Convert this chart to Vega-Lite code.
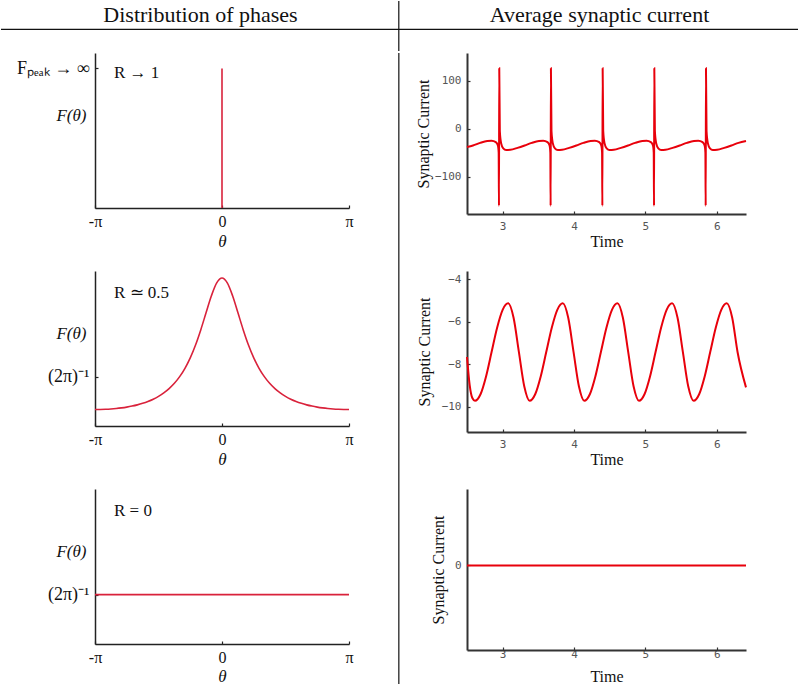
{
 "$schema": "https://vega.github.io/schema/vega-lite/v6.json",
 "background": "white",
 "padding": 0,
 "spacing": 0,
 "config": {
  "view": {"stroke": null},
  "font": "Liberation Serif",
  "axis": {"grid": false, "labelFlush": false, "labelOverlap": false, "titleFontWeight": "normal", "titleFont": "Liberation Serif", "labelFont": "Liberation Serif", "titleColor": "#111", "labelColor": "#111", "domainColor": "#222", "tickColor": "#222", "domainWidth": 1.5, "tickWidth": 1.2}
 },
 "vconcat": [
  {
   "width": 704, "height": 50,
   "layer": [
    {"data": {"values": [{"col": 0.5, "heading": "Distribution of phases"}, {"col": 1.5, "heading": "Average synaptic current"}]},
     "mark": {"type": "text", "font": "Liberation Serif", "fontSize": 22, "baseline": "alphabetic", "align": "center", "color": "#111"},
     "encoding": {
      "x": {"field": "col", "type": "quantitative", "scale": {"domain": [0.2356, 2], "nice": false, "zero": false}, "axis": null},
      "y": {"datum": 0.59, "type": "quantitative", "scale": {"domain": [0, 1], "nice": false}, "axis": null},
      "text": {"field": "heading"}}},
    {"data": {"values": [{}]},
     "mark": {"type": "rule", "color": "#111", "strokeWidth": 1.2},
     "encoding": {"x": {"datum": 0, "type": "quantitative"}, "x2": {"datum": 2}, "y": {"datum": 0.434, "type": "quantitative"}}},
    {"data": {"values": [{}]},
     "mark": {"type": "rule", "color": "#111", "strokeWidth": 1.2},
     "encoding": {"x": {"datum": 0.997, "type": "quantitative"}}}
   ]
  },
  {
   "spacing": 0,
   "hconcat": [
    {
     "spacing": 22,
     "vconcat": [
      {
       "width": 254, "height": 155,
       "layer": [
        {"data": {"values": [{"theta": 0, "F": 0}, {"theta": 0, "F": 0.9}]},
         "mark": {"type": "line", "color": "#d9223b", "strokeWidth": 1.6, "strokeCap": "butt"},
         "encoding": {
          "x": {"field": "theta", "type": "quantitative", "scale": {"domain": [-3.14159, 3.14159], "nice": false, "zero": false},
                "axis": {"values": [-3.14159, 0, 3.14159], "labelExpr": "datum.value < -1 ? '-π' : datum.value > 1 ? 'π' : '0'", "title": "θ", "titleFontStyle": "italic", "titleFontSize": 17, "titleY": 33, "titleBaseline": "middle", "labelFontSize": 16, "labelBaseline": "middle", "labelPadding": 16.7, "tickSize": -3}},
          "y": {"field": "F", "type": "quantitative", "scale": {"domain": [0, 1], "nice": false},
                "axis": {"values": [0.9], "labelExpr": "'Fₚₑₐₖ → ∞'", "title": "F(θ)", "titleAngle": 0, "titleX": -24, "titleY": 62, "titleAlign": "center", "titleBaseline": "middle", "titleFontStyle": "italic", "titleFontSize": 17, "labelFontSize": 18, "labelPadding": 9, "tickSize": -3}}}},
        {"data": {"values": [{}]},
         "mark": {"type": "text", "align": "left", "baseline": "middle", "fontSize": 17, "font": "Liberation Serif", "color": "#111"},
         "encoding": {"x": {"datum": -2.672, "type": "quantitative"}, "y": {"datum": 0.871, "type": "quantitative"}, "text": {"value": "R → 1"}}}
       ]
      },
      {
       "width": 254, "height": 155,
       "layer": [
        {"data": {"values": [
          {"theta": -3.1416, "F": 0.05305}, {"theta": -3.0107, "F": 0.05325}, {"theta": -2.8798, "F": 0.05387}, {"theta": -2.7489, "F": 0.05491},
          {"theta": -2.618, "F": 0.05641}, {"theta": -2.4871, "F": 0.05842}, {"theta": -2.3562, "F": 0.06099}, {"theta": -2.2253, "F": 0.06422},
          {"theta": -2.0944, "F": 0.06821}, {"theta": -1.9635, "F": 0.07311}, {"theta": -1.8326, "F": 0.07911}, {"theta": -1.7017, "F": 0.08646},
          {"theta": -1.5708, "F": 0.09549}, {"theta": -1.4399, "F": 0.10663}, {"theta": -1.309, "F": 0.12043}, {"theta": -1.1781, "F": 0.13763},
          {"theta": -1.0472, "F": 0.15915}, {"theta": -0.9163, "F": 0.18615}, {"theta": -0.7854, "F": 0.21987}, {"theta": -0.6545, "F": 0.2614},
          {"theta": -0.5236, "F": 0.31087}, {"theta": -0.3927, "F": 0.36602}, {"theta": -0.2618, "F": 0.42019}, {"theta": -0.1309, "F": 0.46166},
          {"theta": 0, "F": 0.47746},
          {"theta": 0.1309, "F": 0.46166}, {"theta": 0.2618, "F": 0.42019}, {"theta": 0.3927, "F": 0.36602}, {"theta": 0.5236, "F": 0.31087},
          {"theta": 0.6545, "F": 0.2614}, {"theta": 0.7854, "F": 0.21987}, {"theta": 0.9163, "F": 0.18615}, {"theta": 1.0472, "F": 0.15915},
          {"theta": 1.1781, "F": 0.13763}, {"theta": 1.309, "F": 0.12043}, {"theta": 1.4399, "F": 0.10663}, {"theta": 1.5708, "F": 0.09549},
          {"theta": 1.7017, "F": 0.08646}, {"theta": 1.8326, "F": 0.07911}, {"theta": 1.9635, "F": 0.07311}, {"theta": 2.0944, "F": 0.06821},
          {"theta": 2.2253, "F": 0.06422}, {"theta": 2.3562, "F": 0.06099}, {"theta": 2.4871, "F": 0.05842}, {"theta": 2.618, "F": 0.05641},
          {"theta": 2.7489, "F": 0.05491}, {"theta": 2.8798, "F": 0.05387}, {"theta": 3.0107, "F": 0.05325}, {"theta": 3.1416, "F": 0.05305}
         ]},
         "mark": {"type": "line", "color": "#d9223b", "strokeWidth": 1.6, "interpolate": "monotone"},
         "encoding": {
          "x": {"field": "theta", "type": "quantitative", "scale": {"domain": [-3.14159, 3.14159], "nice": false, "zero": false},
                "axis": {"values": [-3.14159, 0, 3.14159], "labelExpr": "datum.value < -1 ? '-π' : datum.value > 1 ? 'π' : '0'", "title": "θ", "titleFontStyle": "italic", "titleFontSize": 17, "titleY": 33, "titleBaseline": "middle", "labelFontSize": 16, "labelBaseline": "middle", "labelPadding": 16.7, "tickSize": -3}},
          "y": {"field": "F", "type": "quantitative", "scale": {"domain": [0, 0.5], "nice": false},
                "axis": {"values": [0.159155], "labelExpr": "'(2π)⁻¹'", "title": "F(θ)", "titleAngle": 0, "titleX": -24, "titleY": 62, "titleAlign": "center", "titleBaseline": "middle", "titleFontStyle": "italic", "titleFontSize": 17, "labelFontSize": 18, "labelPadding": 9, "tickSize": -3}}}},
        {"data": {"values": [{}]},
         "mark": {"type": "text", "align": "left", "baseline": "middle", "fontSize": 17, "font": "Liberation Serif", "color": "#111"},
         "encoding": {"x": {"datum": -2.672, "type": "quantitative"}, "y": {"datum": 0.429, "type": "quantitative"}, "text": {"value": "R ≃ 0.5"}}}
       ]
      },
      {
       "width": 254, "height": 155,
       "layer": [
        {"data": {"values": [{"theta": -3.1416, "F": 0.159155}, {"theta": 3.1416, "F": 0.159155}]},
         "mark": {"type": "line", "color": "#d9223b", "strokeWidth": 1.6},
         "encoding": {
          "x": {"field": "theta", "type": "quantitative", "scale": {"domain": [-3.14159, 3.14159], "nice": false, "zero": false},
                "axis": {"values": [-3.14159, 0, 3.14159], "labelExpr": "datum.value < -1 ? '-π' : datum.value > 1 ? 'π' : '0'", "title": "θ", "titleFontStyle": "italic", "titleFontSize": 17, "titleY": 32, "titleBaseline": "middle", "labelFontSize": 16, "labelBaseline": "middle", "labelPadding": 16.7, "tickSize": -3}},
          "y": {"field": "F", "type": "quantitative", "scale": {"domain": [0, 0.5], "nice": false},
                "axis": {"values": [0.159155], "labelExpr": "'(2π)⁻¹'", "title": "F(θ)", "titleAngle": 0, "titleX": -24, "titleY": 62, "titleAlign": "center", "titleBaseline": "middle", "titleFontStyle": "italic", "titleFontSize": 17, "labelFontSize": 18, "labelPadding": 9, "tickSize": -3}}}},
        {"data": {"values": [{}]},
         "mark": {"type": "text", "align": "left", "baseline": "middle", "fontSize": 17, "font": "Liberation Serif", "color": "#111"},
         "encoding": {"x": {"datum": -2.672, "type": "quantitative"}, "y": {"datum": 0.43, "type": "quantitative"}, "text": {"value": "R = 0"}}}
       ]
      }
     ]
    },
    {
     "width": 61, "height": 634,
     "data": {"values": [{}]},
     "mark": {"type": "rule", "color": "#111", "strokeWidth": 1.2},
     "encoding": {"x": {"datum": 0.735, "type": "quantitative", "scale": {"domain": [0, 1], "nice": false}, "axis": null}}
    },
    {
     "spacing": 22,
     "vconcat": [
      {
       "width": 279, "height": 161,
       "data": {"values": [
        {"t": 2.5, "I": -38}, {"t": 2.584, "I": -35}, {"t": 2.684, "I": -29.5}, {"t": 2.784, "I": -25.5}, {"t": 2.844, "I": -25}, {"t": 2.904, "I": -28}, {"t": 2.933, "I": -35}, {"t": 2.944, "I": -50},
        {"t": 2.948, "I": -161}, {"t": 2.952, "I": 126}, {"t": 2.96, "I": -5}, {"t": 2.978, "I": -30}, {"t": 3.008, "I": -41}, {"t": 3.048, "I": -44.5}, {"t": 3.108, "I": -44}, {"t": 3.208, "I": -40}, {"t": 3.308, "I": -35}, {"t": 3.408, "I": -29.5}, {"t": 3.508, "I": -25.5}, {"t": 3.568, "I": -25}, {"t": 3.628, "I": -28}, {"t": 3.657, "I": -35}, {"t": 3.668, "I": -50},
        {"t": 3.672, "I": -161}, {"t": 3.676, "I": 126}, {"t": 3.684, "I": -5}, {"t": 3.702, "I": -30}, {"t": 3.732, "I": -41}, {"t": 3.772, "I": -44.5}, {"t": 3.832, "I": -44}, {"t": 3.932, "I": -40}, {"t": 4.032, "I": -35}, {"t": 4.132, "I": -29.5}, {"t": 4.232, "I": -25.5}, {"t": 4.292, "I": -25}, {"t": 4.353, "I": -28}, {"t": 4.382, "I": -35}, {"t": 4.393, "I": -50},
        {"t": 4.397, "I": -161}, {"t": 4.401, "I": 126}, {"t": 4.409, "I": -5}, {"t": 4.427, "I": -30}, {"t": 4.457, "I": -41}, {"t": 4.497, "I": -44.5}, {"t": 4.557, "I": -44}, {"t": 4.657, "I": -40}, {"t": 4.757, "I": -35}, {"t": 4.857, "I": -29.5}, {"t": 4.957, "I": -25.5}, {"t": 5.017, "I": -25}, {"t": 5.077, "I": -28}, {"t": 5.106, "I": -35}, {"t": 5.117, "I": -50},
        {"t": 5.121, "I": -161}, {"t": 5.125, "I": 126}, {"t": 5.133, "I": -5}, {"t": 5.151, "I": -30}, {"t": 5.181, "I": -41}, {"t": 5.221, "I": -44.5}, {"t": 5.281, "I": -44}, {"t": 5.381, "I": -40}, {"t": 5.481, "I": -35}, {"t": 5.581, "I": -29.5}, {"t": 5.681, "I": -25.5}, {"t": 5.741, "I": -25}, {"t": 5.801, "I": -28}, {"t": 5.83, "I": -35}, {"t": 5.841, "I": -50},
        {"t": 5.845, "I": -161}, {"t": 5.849, "I": 126}, {"t": 5.857, "I": -5}, {"t": 5.875, "I": -30}, {"t": 5.905, "I": -41}, {"t": 5.945, "I": -44.5}, {"t": 6.005, "I": -44}, {"t": 6.105, "I": -40}, {"t": 6.205, "I": -35}, {"t": 6.305, "I": -29.5}, {"t": 6.41, "I": -25.5}
       ]},
       "mark": {"type": "line", "color": "#e8000b", "strokeWidth": 2, "interpolate": "monotone"},
       "encoding": {
        "x": {"field": "t", "type": "quantitative", "scale": {"domain": [2.5, 6.41], "nice": false, "zero": false},
              "axis": {"values": [3, 4, 5, 6], "title": "Time", "titleFontSize": 16, "titleY": 27, "titleBaseline": "middle", "labelFont": "DejaVu Sans Mono", "labelFontSize": 11, "labelColor": "#555", "labelBaseline": "middle", "labelPadding": 15, "tickSize": -3, "domainWidth": 2, "domainColor": "#333", "tickColor": "#333"}},
        "y": {"field": "I", "type": "quantitative", "scale": {"domain": [-178, 158], "nice": false, "zero": false},
              "axis": {"values": [-100, 0, 100], "title": "Synaptic Current", "titleFontSize": 16, "titleX": -44, "titleY": 80.5, "titleBaseline": "middle", "labelFont": "DejaVu Sans Mono", "labelFontSize": 11, "labelColor": "#555", "labelPadding": 9, "tickSize": -3, "domainWidth": 2, "domainColor": "#333", "tickColor": "#333"}}}
      },
      {
       "width": 279, "height": 161,
       "data": {"values": [
        {"t": 2.5, "I": -7.67}, {"t": 2.538, "I": -9.0}, {"t": 2.575, "I": -9.6},
        {"t": 2.612, "I": -9.73}, {"t": 2.6895, "I": -9.423}, {"t": 2.767, "I": -8.583}, {"t": 2.8445, "I": -7.435}, {"t": 2.922, "I": -6.288}, {"t": 2.9995, "I": -5.447}, {"t": 3.077, "I": -5.14}, {"t": 3.152, "I": -5.812}, {"t": 3.2275, "I": -7.435}, {"t": 3.303, "I": -9.058},
        {"t": 3.378, "I": -9.73}, {"t": 3.4555, "I": -9.423}, {"t": 3.533, "I": -8.583}, {"t": 3.6105, "I": -7.435}, {"t": 3.688, "I": -6.288}, {"t": 3.7655, "I": -5.447}, {"t": 3.843, "I": -5.14}, {"t": 3.918, "I": -5.812}, {"t": 3.9935, "I": -7.435}, {"t": 4.069, "I": -9.058},
        {"t": 4.144, "I": -9.73}, {"t": 4.2215, "I": -9.423}, {"t": 4.299, "I": -8.583}, {"t": 4.3765, "I": -7.435}, {"t": 4.454, "I": -6.288}, {"t": 4.5315, "I": -5.447}, {"t": 4.609, "I": -5.14}, {"t": 4.684, "I": -5.812}, {"t": 4.7595, "I": -7.435}, {"t": 4.835, "I": -9.058},
        {"t": 4.91, "I": -9.73}, {"t": 4.9875, "I": -9.423}, {"t": 5.065, "I": -8.583}, {"t": 5.1425, "I": -7.435}, {"t": 5.22, "I": -6.288}, {"t": 5.2975, "I": -5.447}, {"t": 5.375, "I": -5.14}, {"t": 5.45, "I": -5.812}, {"t": 5.5255, "I": -7.435}, {"t": 5.601, "I": -9.058},
        {"t": 5.676, "I": -9.73}, {"t": 5.7535, "I": -9.423}, {"t": 5.831, "I": -8.583}, {"t": 5.9085, "I": -7.435}, {"t": 5.986, "I": -6.288}, {"t": 6.0635, "I": -5.447}, {"t": 6.141, "I": -5.14}, {"t": 6.216, "I": -5.812}, {"t": 6.2915, "I": -7.435}, {"t": 6.41, "I": -9.1}
       ]},
       "mark": {"type": "line", "color": "#e8000b", "strokeWidth": 2, "interpolate": "monotone"},
       "encoding": {
        "x": {"field": "t", "type": "quantitative", "scale": {"domain": [2.5, 6.41], "nice": false, "zero": false},
              "axis": {"values": [3, 4, 5, 6], "title": "Time", "titleFontSize": 16, "titleY": 27, "titleBaseline": "middle", "labelFont": "DejaVu Sans Mono", "labelFontSize": 11, "labelColor": "#555", "labelBaseline": "middle", "labelPadding": 15, "tickSize": -3, "domainWidth": 2, "domainColor": "#333", "tickColor": "#333"}},
        "y": {"field": "I", "type": "quantitative", "scale": {"domain": [-11.2, -3.62], "nice": false, "zero": false},
              "axis": {"values": [-10, -8, -6, -4], "title": "Synaptic Current", "titleFontSize": 16, "titleX": -43, "titleY": 80.5, "titleBaseline": "middle", "labelFont": "DejaVu Sans Mono", "labelFontSize": 11, "labelColor": "#555", "labelPadding": 9, "tickSize": -3, "domainWidth": 2, "domainColor": "#333", "tickColor": "#333"}}}
      },
      {
       "width": 279, "height": 161,
       "data": {"values": [{"t": 2.5, "I": 0}, {"t": 6.41, "I": 0}]},
       "mark": {"type": "line", "color": "#e8000b", "strokeWidth": 2},
       "encoding": {
        "x": {"field": "t", "type": "quantitative", "scale": {"domain": [2.5, 6.41], "nice": false, "zero": false},
              "axis": {"values": [3, 4, 5, 6], "title": "Time", "titleFontSize": 16, "titleY": 26, "titleBaseline": "middle", "labelFont": "DejaVu Sans Mono", "labelFontSize": 11, "labelColor": "#555", "labelBaseline": "middle", "labelPadding": 7.5, "tickSize": -3, "domainWidth": 2, "domainColor": "#333", "tickColor": "#333"}},
        "y": {"field": "I", "type": "quantitative", "scale": {"domain": [-1.05, 0.95], "nice": false, "zero": false},
              "axis": {"values": [0], "title": "Synaptic Current", "titleFontSize": 16, "titleX": -29, "titleY": 80.5, "titleBaseline": "middle", "labelFont": "DejaVu Sans Mono", "labelFontSize": 11, "labelColor": "#555", "labelPadding": 9, "tickSize": -3, "domainWidth": 2, "domainColor": "#333", "tickColor": "#333"}}}
      }
     ]
    }
   ]
  }
 ]
}
